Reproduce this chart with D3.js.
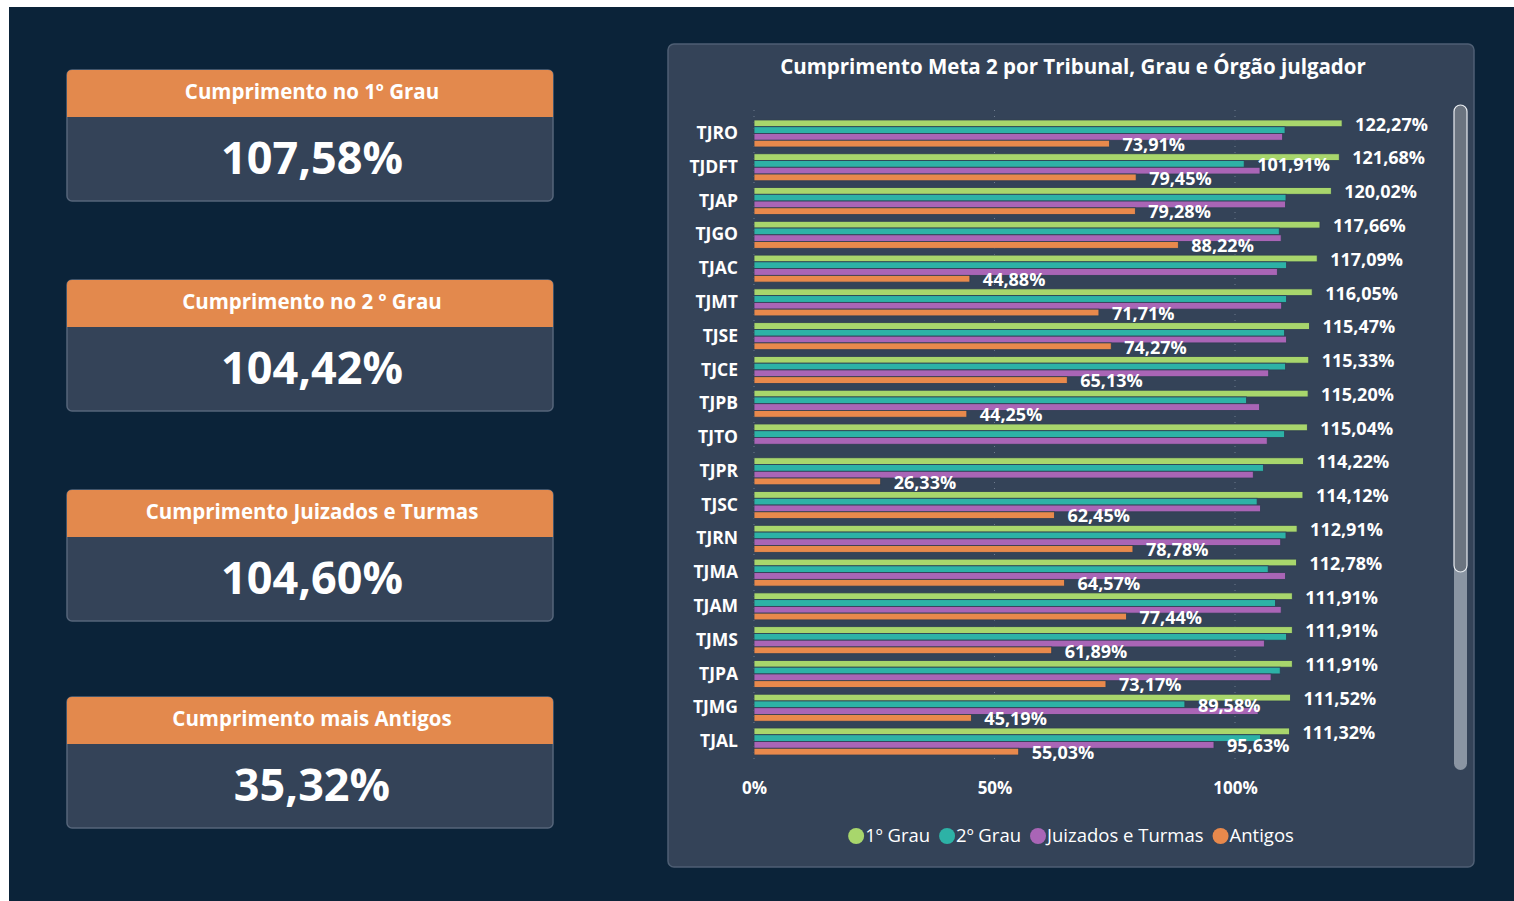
<!DOCTYPE html>
<html>
<head>
<meta charset="utf-8">
<script src="https://cdn.jsdelivr.net/npm/d3@7"></script>
<style>
  body { margin: 0; background: #ffffff; }
  svg text { font-family: "Open Sans", "Noto Sans", sans-serif; fill: #ffffff; }
</style>
</head>
<body>
<div id="dash"></div>
<script>
// KPI cards
const kpiTitles = ["Cumprimento no 1º Grau", "Cumprimento no 2 º Grau", "Cumprimento Juizados e Turmas", "Cumprimento mais Antigos"]
const kpiValues = ["107,58%", "104,42%", "104,60%", "35,32%"]

// chart data (percent)
const categories = ["TJRO", "TJDFT", "TJAP", "TJGO", "TJAC", "TJMT", "TJSE", "TJCE", "TJPB", "TJTO",
    "TJPR", "TJSC", "TJRN", "TJMA", "TJAM", "TJMS", "TJPA", "TJMG", "TJAL"]
const grau1 = [122.27, 121.68, 120.02, 117.66, 117.09, 116.05, 115.47, 115.33, 115.20, 115.04,
    114.22, 114.12, 112.91, 112.78, 111.91, 111.91, 111.91, 111.52, 111.32]
const grau2 = [110.4, 101.91, 110.6, 109.2, 110.7, 110.7, 110.3, 110.5, 102.4, 110.3,
    105.9, 104.6, 110.6, 106.9, 108.4, 110.7, 109.4, 89.58, 105.3]
const juizados = [109.9, 105.2, 110.5, 109.6, 108.8, 109.7, 110.7, 107.0, 105.1, 106.7,
    103.8, 105.3, 109.5, 110.5, 109.6, 106.1, 107.5, 104.8, 95.63]
const antigos = [73.91, 79.45, 79.28, 88.22, 44.88, 71.71, 74.27, 65.13, 44.25, null,
    26.33, 62.45, 78.78, 64.57, 77.44, 61.89, 73.17, 45.19, 55.03]
const seriesNames = ["1º Grau", "2º Grau", "Juizados e Turmas", "Antigos"]
const seriesColors = ["#a8d66c", "#2db2a6", "#a965b6", "#e8894c"]
// data labels that the report actually shows for 2º Grau / Juizados
const grau2Labeled = ["TJDFT", "TJMG"]
const juizadosLabeled = ["TJAL"]
const xTicks = [0, 50, 100]

const W = 1514, H = 901
const svg = d3.select("#dash").append("svg")
    .attr("width", W)
    .attr("height", H)

// page background
svg.append("rect")
    .attr("x", 9).attr("y", 7)
    .attr("width", W - 9).attr("height", H - 7)
    .attr("fill", "#0b2339")

// ---- KPI cards ----
const cardY = [70, 280, 490, 697]
const card = svg.selectAll(".card")
    .data(kpiTitles)
    .enter().append("g")
    .attr("class", "card")
    .attr("transform", (d, i) => "translate(67," + cardY[i] + ")")

card.append("rect")
    .attr("width", 486).attr("height", 131).attr("rx", 5)
    .attr("fill", "#344358")
    .attr("stroke", "#56657a").attr("stroke-width", 1.5)
card.append("path")
    .attr("d", "M0,47 V5 Q0,0 5,0 H481 Q486,0 486,5 V47 Z")
    .attr("fill", "#e3894d")
card.append("text")
    .attr("x", 245).attr("y", 22)
    .attr("dy", "0.35em")
    .attr("text-anchor", "middle")
    .style("font-size", "20.5px")
    .style("font-weight", 700)
    .text(d => d)
card.append("text")
    .attr("x", 245).attr("y", 88)
    .attr("dy", "0.35em")
    .attr("text-anchor", "middle")
    .style("font-size", "45px")
    .style("font-weight", 700)
    .text((d, i) => kpiValues[i])

// ---- chart panel ----
svg.append("rect")
    .attr("x", 668).attr("y", 44)
    .attr("width", 806).attr("height", 823).attr("rx", 6)
    .attr("fill", "#344358")
    .attr("stroke", "#4f5f74").attr("stroke-width", 1.5)

svg.append("text")
    .attr("x", 1073).attr("y", 67)
    .attr("dy", "0.35em")
    .attr("text-anchor", "middle")
    .style("font-size", "20.5px")
    .style("font-weight", 700)
    .text("Cumprimento Meta 2 por Tribunal, Grau e Órgão julgador")

const x = d3.scaleLinear()
    .domain([0, 100])
    .range([754, 1235])
const y = d3.scaleBand()
    .domain(categories)
    .range([116.6, 758.4])
    .paddingInner(0.2)
    .paddingOuter(0.1)
const ySub = d3.scaleBand()
    .domain(seriesNames)
    .range([0, y.bandwidth()])

// dotted grid
svg.selectAll("line.vertical-grid")
    .data(xTicks)
    .enter().append("line")
    .attr("class", "vertical-grid")
    .attr("x1", d => x(d)).attr("x2", d => x(d))
    .attr("y1", 110).attr("y2", 762)
    .style("stroke", "#8794a6")
    .style("stroke-width", 1)
    .style("stroke-dasharray", "1 5")
    .style("opacity", 0.7)

// rows
const rows = categories.map((c, i) => ({
    cat: c,
    vals: [grau1[i], grau2[i], juizados[i], antigos[i]]
}))
const bars = []
const labels = []
rows.forEach(r => {
    r.vals.forEach((v, k) => {
        if (v == null) return
        bars.push({ cat: r.cat, s: k, v: v })
        const show = k === 0 || k === 3 ||
            (k === 1 && grau2Labeled.includes(r.cat)) ||
            (k === 2 && juizadosLabeled.includes(r.cat))
        if (show) labels.push({ cat: r.cat, s: k, v: v })
    })
})

svg.selectAll(".bar")
    .data(bars)
    .enter().append("rect")
    .attr("class", "bar")
    .attr("x", x(0))
    .attr("y", d => y(d.cat) + ySub(seriesNames[d.s]))
    .attr("width", d => x(d.v) - x(0))
    .attr("height", ySub.bandwidth())
    .attr("fill", d => seriesColors[d.s])
    .attr("stroke", "#2f3e52")
    .attr("stroke-width", 0.8)

const fmt = d3.formatLocale({ decimal: ",", thousands: ".", grouping: [3], currency: ["R$", ""] }).format(".2f")
svg.selectAll(".label")
    .data(labels)
    .enter().append("text")
    .attr("class", "label")
    .attr("x", d => x(d.v) + 13)
    .attr("y", d => y(d.cat) + ySub(seriesNames[d.s]) + ySub.bandwidth() / 2 + 1)
    .attr("dy", "0.35em")
    .style("font-size", "18px")
    .style("font-weight", 700)
    .text(d => fmt(d.v) + "%")

// axes
const yAxis = d3.axisLeft(y).tickSize(0).tickPadding(16)
svg.append("g")
    .attr("class", "y axis")
    .attr("transform", "translate(" + x(0) + ",0)")
    .call(yAxis)
    .call(g => g.select(".domain").remove())
    .selectAll("text")
    .style("font-size", "17.5px")
    .style("font-weight", 700)

const xAxis = d3.axisBottom(x).tickValues(xTicks).tickSize(0).tickPadding(0)
    .tickFormat(d => d + "%")
svg.append("g")
    .attr("class", "x axis")
    .attr("transform", "translate(0,782)")
    .call(xAxis)
    .call(g => g.select(".domain").remove())
    .selectAll("text")
    .style("font-size", "17px")
    .style("font-weight", 700)

// legend
const legend = svg.append("g")
let lx = 0
seriesNames.forEach((name, i) => {
    legend.append("circle")
        .attr("cx", lx + 8).attr("cy", 836).attr("r", 8)
        .attr("fill", seriesColors[i])
    const t = legend.append("text")
        .attr("x", lx + 17).attr("y", 836)
        .attr("dy", "0.35em")
        .style("font-size", "18.5px")
        .text(name)
    lx += 17 + t.node().getComputedTextLength() + 9
})
legend.attr("transform", "translate(" + (1071 - (lx - 9) / 2) + ",0)")

// scrollbar
svg.append("rect")
    .attr("x", 1454).attr("y", 105)
    .attr("width", 13).attr("height", 665).attr("rx", 6.5)
    .attr("fill", "#8a95a3")
svg.append("rect")
    .attr("x", 1454).attr("y", 105)
    .attr("width", 13).attr("height", 467).attr("rx", 6.5)
    .attr("fill", "#6b7480")
    .attr("stroke", "#e8ecf0").attr("stroke-width", 1.2)
</script>
</body>
</html>
